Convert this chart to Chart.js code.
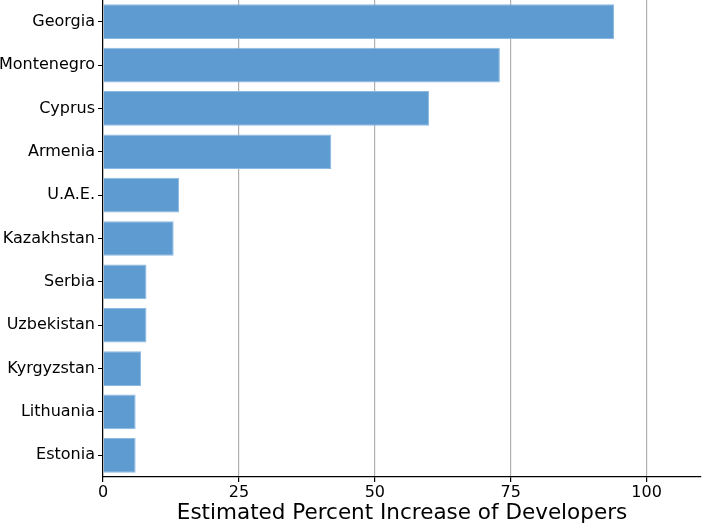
<!DOCTYPE html>
<html>
<head>
<meta charset="utf-8">
<script src="https://cdn.jsdelivr.net/npm/chart.js@4"></script>
<style>
  html, body { margin: 0; padding: 0; background: #fff; }
  #wrap { width: 702px; height: 526px; }
</style>
</head>
<body>
<div id="wrap"><canvas id="devChart"></canvas></div>
<script>
// data
const countries = ['Georgia', 'Montenegro', 'Cyprus', 'Armenia', 'U.A.E.', 'Kazakhstan',
                   'Serbia', 'Uzbekistan', 'Kyrgyzstan', 'Lithuania', 'Estonia'];
const increase = [94, 73, 60, 42, 14, 13, 8, 8, 7, 6, 6];
const xTicks = [0, 25, 50, 75, 100];

const ctx = document.getElementById('devChart').getContext('2d');

new Chart(ctx, {
  type: 'bar',
  data: {
    labels: countries,
    datasets: [{
      data: increase,
      backgroundColor: '#5e9bd0',
      borderColor: '#8cb9e2',
      borderWidth: 1,
      barPercentage: 0.8,
      categoryPercentage: 1.0
    }]
  },
  options: {
    indexAxis: 'y',
    responsive: true,
    maintainAspectRatio: false,
    animation: false,
    layout: { padding: { top: 0, right: 1, left: 0, bottom: 0 } },
    plugins: { legend: { display: false }, tooltip: { enabled: false } },
    scales: {
      x: {
        min: 0,
        max: 110,
        afterBuildTicks: axis => { axis.ticks = xTicks.map(v => ({ value: v })); },
        afterFit: axis => { axis.height = 49; axis.paddingLeft = 0; axis.paddingRight = 0; },
        grid: {
          color: '#b0b0b0',
          lineWidth: 1.2,
          tickColor: '#000',
          tickLength: 5
        },
        border: { color: '#000', width: 1.2 },
        ticks: {
          color: '#000',
          font: { family: 'DejaVu Sans', size: 16 },
          padding: 1
        },
        title: {
          display: true,
          text: 'Estimated Percent Increase of Developers',
          color: '#000',
          font: { family: 'DejaVu Sans', size: 21.5 },
          padding: { top: 0, bottom: 0 }
        }
      },
      y: {
        afterFit: axis => { axis.width = 103; axis.paddingTop = 0; axis.paddingBottom = 0; },
        grid: {
          offset: false,
          drawOnChartArea: false,
          tickColor: '#000',
          tickLength: 5
        },
        border: { color: '#000', width: 1.2 },
        ticks: {
          color: '#000',
          font: { family: 'DejaVu Sans', size: 16 },
          padding: 3
        }
      }
    }
  }
});
</script>
</body>
</html>
